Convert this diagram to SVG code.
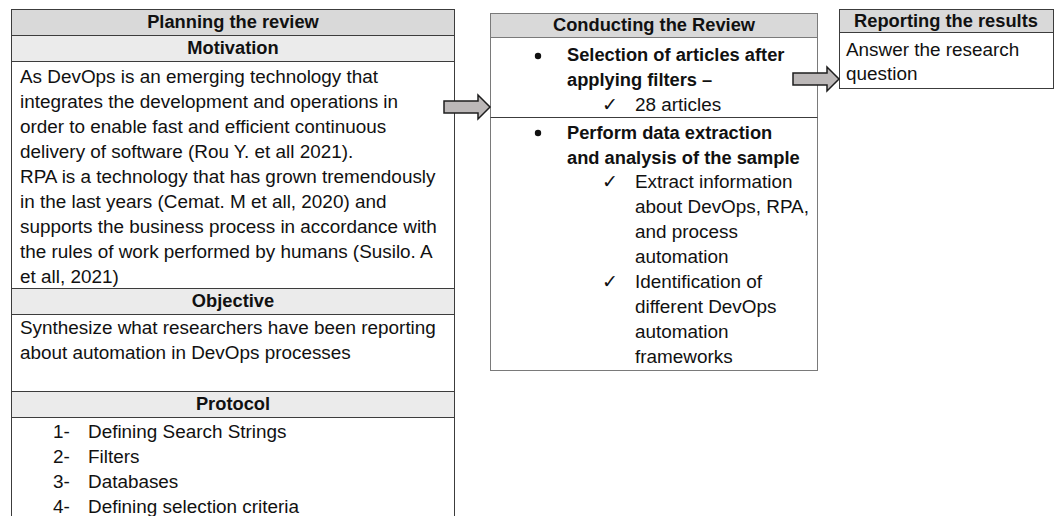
<svg xmlns="http://www.w3.org/2000/svg" width="1057" height="516" viewBox="0 0 1057 516">
<style>
text{font-family:"Liberation Sans",Arial,sans-serif;font-size:18.9px;fill:#111}
.b{font-weight:bold;font-size:18.3px}
.c{text-anchor:middle}
.chk{font-family:"DejaVu Sans",sans-serif;font-size:19px}
.h1{fill:#d9d9d9;stroke:#3c3c3c;stroke-width:1}
.h2{fill:#ebebeb;stroke:#3c3c3c;stroke-width:1}
.bx{fill:#fff;stroke:#3c3c3c;stroke-width:1}
.g{stroke:#7a7a7a}
.ln{stroke:#3c3c3c;stroke-width:1;fill:none}
.arr{fill:#bcb8b8;stroke:#1e1e1e;stroke-width:1.5;stroke-linejoin:miter}
</style>
<rect width="1057" height="516" fill="#fff"/>
<g id="planning">
  <path class="ln" d="M11.5,9 V516 M454.5,9 V516"/>
  <rect class="h1" x="11.5" y="9.5" width="443" height="26"/>
  <text class="b c" x="233" y="28">Planning the review</text>
  <rect class="h2" x="11.5" y="35.5" width="443" height="26"/>
  <text class="b c" x="233" y="54">Motivation</text>
  <text x="20" y="83">As DevOps is an emerging technology that</text>
  <text x="20" y="108">integrates the development and operations in</text>
  <text x="20" y="133">order to enable fast and efficient continuous</text>
  <text x="20" y="158">delivery of software (Rou Y. et all 2021).</text>
  <text x="20" y="183">RPA is a technology that has grown tremendously</text>
  <text x="20" y="208">in the last years (Cemat. M et all, 2020) and</text>
  <text x="20" y="233">supports the business process in accordance with</text>
  <text x="20" y="258">the rules of work performed by humans (Susilo. A</text>
  <text x="20" y="283">et all, 2021)</text>
  <rect class="h2" x="11.5" y="288.5" width="443" height="26"/>
  <text class="b c" x="233" y="307">Objective</text>
  <text x="20" y="334">Synthesize what researchers have been reporting</text>
  <text x="20" y="359">about automation in DevOps processes</text>
  <rect class="h2" x="11.5" y="391.5" width="443" height="26"/>
  <text class="b c" x="233" y="410">Protocol</text>
  <text x="53" y="438">1-</text><text x="88" y="438">Defining Search Strings</text>
  <text x="53" y="463">2-</text><text x="88" y="463">Filters</text>
  <text x="53" y="488">3-</text><text x="88" y="488">Databases</text>
  <text x="53" y="513">4-</text><text x="88" y="513">Defining selection criteria</text>
</g>
<g id="conducting">
  <rect class="bx g" x="490.5" y="13.5" width="327" height="357"/>
  <rect class="h1 g" x="490.5" y="13.5" width="327" height="24"/>
  <text class="b c" x="654" y="31">Conducting the Review</text>
  <circle cx="538" cy="56" r="3.2" fill="#111"/>
  <text class="b" x="567" y="61">Selection of articles after</text>
  <text class="b" x="567" y="86">applying filters –</text>
  <text class="chk" x="602" y="111">✓</text>
  <text x="635" y="111">28 articles</text>
  <path class="ln g" d="M490.5,117.5 H817.5"/>
  <circle cx="538" cy="133" r="3.2" fill="#111"/>
  <text class="b" x="567" y="139">Perform data extraction</text>
  <text class="b" x="567" y="164">and analysis of the sample</text>
  <text class="chk" x="602" y="188">✓</text>
  <text x="635" y="188">Extract information</text>
  <text x="635" y="213">about DevOps, RPA,</text>
  <text x="635" y="238">and process</text>
  <text x="635" y="263">automation</text>
  <text class="chk" x="602" y="288">✓</text>
  <text x="635" y="288">Identification of</text>
  <text x="635" y="313">different DevOps</text>
  <text x="635" y="338">automation</text>
  <text x="635" y="363">frameworks</text>
</g>
<g id="reporting">
  <rect class="bx" x="839.5" y="9.5" width="214" height="79"/>
  <rect class="h1" x="839.5" y="9.5" width="214" height="23"/>
  <text class="b c" x="946" y="27">Reporting the results</text>
  <text x="846" y="56">Answer the research</text>
  <text x="846" y="80">question</text>
</g>
<g id="connectors">
  <path class="arr" d="M444,101 H478 V95 L490,107 L478,119 V113 H444 Z"/>
  <path class="arr" d="M793,73 H827 V67 L839,79 L827,91 V85 H793 Z"/>
</g>
</svg>
